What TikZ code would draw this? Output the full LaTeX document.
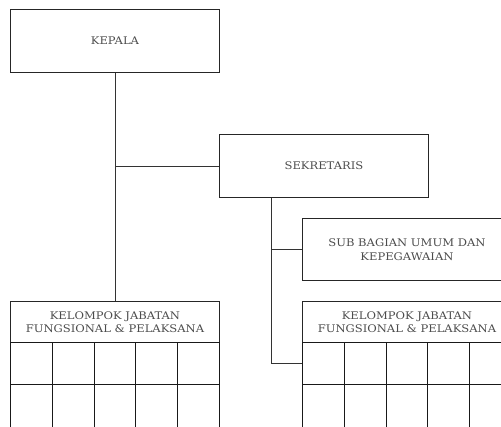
\documentclass[tikz,border=0pt]{standalone}
\usepackage{fontspec}
\setmainfont{DejaVu Serif}[FakeStretch=1.1]
\begin{document}
\begin{tikzpicture}[x=1pt,y=-1pt,
  box/.style={draw=black!85,line width=0.9pt,minimum width=209pt,inner sep=0pt,anchor=north west,align=center,text=black!70,font=\fontsize{10.5}{13.5}\selectfont},
  cell/.style={draw=black!90,line width=0.9pt,minimum width=41.8pt,minimum height=42pt,inner sep=0pt,anchor=north west},
  link/.style={draw=black!80,line width=0.9pt}]
\useasboundingbox (0,0) rectangle (501,426);
\clip (0,0) rectangle (501,426);
\node[box,minimum height=63pt] (kepala) at (10,9) {KEPALA};
\node[box,minimum height=63pt] (sekretaris) at (219,134) {SEKRETARIS};
\node[box,minimum height=62pt] (subbag) at (302,218) {SUB BAGIAN UMUM DAN\\KEPEGAWAIAN};
\node[box,minimum height=41pt] (kjfa) at (10,301) {KELOMPOK JABATAN\\FUNGSIONAL \& PELAKSANA};
\node[box,minimum height=41pt] (kjfb) at (302,301) {KELOMPOK JABATAN\\FUNGSIONAL \& PELAKSANA};
\foreach \r/\h in {1/42,2/46}{
  \foreach \c in {1,...,5}{
    \node[cell,minimum height=\h pt] (a\r\c) at ({10+(\c-1)*41.8},{342+(\r-1)*42}) {};
    \node[cell,minimum height=\h pt] (b\r\c) at ({302+(\c-1)*41.8},{342+(\r-1)*42}) {};
  }
}
\coordinate (sx) at (271,0);
\draw[link] (kepala.south) -- (kjfa.north);
\draw[link] (sekretaris.west) -- (sekretaris.west -| kepala.south);
\draw[link] (sekretaris.south -| sx) |- (b11.west);
\draw[link] (subbag.west) -- (subbag.west -| sx);
\end{tikzpicture}
\end{document}
